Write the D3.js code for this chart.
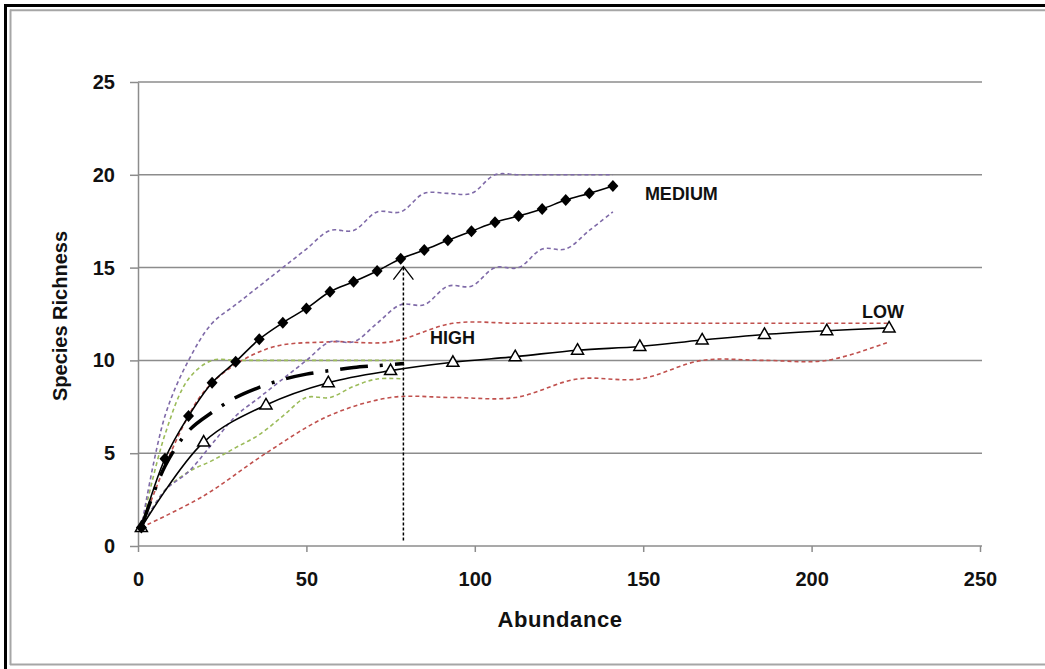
<!DOCTYPE html>
<html>
<head>
<meta charset="utf-8">
<script src="https://cdn.jsdelivr.net/npm/d3@7"></script>
<style>
  html, body { margin: 0; padding: 0; background: #fff; }
  svg { display: block; font-family: "Liberation Sans", Arial, sans-serif; }
</style>
</head>
<body>
<svg id="chart" width="1045" height="669"></svg>
<script>
// Rarefaction curves: species richness against abundance, with confidence bounds
const mediumX = [1, 8, 15, 22, 29, 36, 43, 50, 57, 64, 71, 78, 85, 92, 99, 106, 113, 120, 127, 134, 141];
const mediumY = [1, 4.7, 7.0, 8.8, 9.93, 11.14, 12.03, 12.8, 13.7, 14.24, 14.82, 15.48, 15.95, 16.47, 16.96, 17.44, 17.78, 18.16, 18.64, 19.0, 19.4];
const mediumUpper = [1, 7, 10, 12, 13, 14, 15, 16, 17, 17, 18, 18, 19, 19, 19, 20, 20, 20, 20, 20, 20];
const mediumLower = [1, 3, 4, 5.5, 7, 8, 9, 10, 11, 11, 12, 13, 13, 14, 14, 15, 15, 16, 16, 17, 18];

const highX = [1, 8, 15, 22, 29, 36, 43, 50, 57, 64, 71, 79];
const highY = [1, 4.3, 6.2, 7.2, 8.0, 8.55, 8.97, 9.26, 9.45, 9.62, 9.72, 9.83];
const highUpper = [1, 6, 9, 10, 10, 10, 10, 10, 10, 10, 10, 10];
const highLower = [1, 3, 4, 4.6, 5.3, 6, 7, 8, 8, 8.6, 9, 9];

const lowX = [1, 19.5, 38, 56.5, 75, 93.5, 112, 130.5, 149, 167.5, 186, 204.5, 223];
const lowY = [1, 5.6, 7.6, 8.8, 9.45, 9.9, 10.2, 10.55, 10.75, 11.1, 11.4, 11.6, 11.75];
const lowUpper = [1, 8.3, 10.6, 11, 11, 12, 12, 12, 12, 12, 12, 12, 12];
const lowLower = [1, 2.7, 5, 7, 8, 8, 8, 9, 9, 10, 10, 10, 11];

const xTicks = [0, 50, 100, 150, 200, 250];
const yTicks = [0, 5, 10, 15, 20, 25];

// Reference marker: abundance where the HIGH curve ends, up to the MEDIUM curve
const markerX = 78.8;
const markerY = [0.3, 15.05];

const seriesLabels = [
  { text: "MEDIUM", x: 141, y: 19.4 },
  { text: "HIGH", x: 79, y: 9.83 },
  { text: "LOW", x: 223, y: 11.75 }
];

const svg = d3.select("#chart");
const W = 1045, H = 669;

// Outer frame
svg.append("line").attr("x1", 5.5).attr("x2", 5.5).attr("y1", 4).attr("y2", H)
  .attr("stroke", "#000").attr("stroke-width", 3);
svg.append("line").attr("x1", 4).attr("x2", W).attr("y1", 5.5).attr("y2", 5.5)
  .attr("stroke", "#000").attr("stroke-width", 3);
svg.append("line").attr("x1", 10.5).attr("x2", 10.5).attr("y1", 9.5).attr("y2", 665)
  .attr("stroke", "#a6a6a6").attr("stroke-width", 2);
svg.append("line").attr("x1", 10).attr("x2", W).attr("y1", 10.2).attr("y2", 10.2)
  .attr("stroke", "#a6a6a6").attr("stroke-width", 2);
svg.append("line").attr("x1", 10).attr("x2", W).attr("y1", 664.5).attr("y2", 664.5)
  .attr("stroke", "#a6a6a6").attr("stroke-width", 2);

const x = d3.scaleLinear().domain([0, 250]).range([138, 980]);
const y = d3.scaleLinear().domain([0, 25]).range([546, 82]);
const gridRight = 982;
const gray = "#8c8c8c";

// Horizontal gridlines
svg.append("g").selectAll("line").data(yTicks.filter(d => d > 0)).join("line")
  .attr("x1", x(0)).attr("x2", gridRight)
  .attr("y1", d => y(d)).attr("y2", d => y(d))
  .attr("stroke", gray).attr("stroke-width", 1.5);

// Axes
const yAxis = svg.append("g").attr("transform", `translate(${x(0)},0)`)
  .call(d3.axisLeft(y).tickValues(yTicks).tickSize(8).tickSizeOuter(0).tickPadding(15));
const xAxis = svg.append("g").attr("transform", `translate(0,${y(0)})`)
  .call(d3.axisBottom(x).tickValues(xTicks).tickSize(6).tickSizeOuter(0).tickPadding(20));
xAxis.select(".domain").attr("d", `M${x(0)},0H${gridRight}`);
[yAxis, xAxis].forEach(g => {
  g.select(".domain").attr("stroke", gray).attr("stroke-width", 1.5);
  g.selectAll(".tick line").attr("stroke", gray).attr("stroke-width", 1.5);
  g.selectAll(".tick text").attr("fill", "#111").attr("font-size", 20)
    .attr("font-weight", "bold").attr("font-family", "Liberation Sans, Arial, sans-serif");
});

// Axis titles
svg.append("text").attr("transform", "translate(67,316) rotate(-90)")
  .attr("text-anchor", "middle").attr("font-size", 20).attr("font-weight", "bold")
  .attr("fill", "#111").text("Species Richness");
svg.append("text").attr("x", 560).attr("y", 627)
  .attr("text-anchor", "middle").attr("font-size", 22).attr("font-weight", "bold")
  .attr("letter-spacing", 0.6).attr("fill", "#111").text("Abundance");

const curve = d3.curveCatmullRom.alpha(0.5);
function drawLine(xs, ys, stroke, width, dash) {
  const pts = xs.map((v, i) => [v, ys[i]]);
  const gen = d3.line().x(d => x(d[0])).y(d => y(d[1])).curve(curve);
  const p = svg.append("path").datum(pts).attr("d", gen)
    .attr("fill", "none").attr("stroke", stroke).attr("stroke-width", width)
    .attr("stroke-linejoin", "round");
  if (dash) p.attr("stroke-dasharray", dash);
  return p;
}

const purple = "#7f6aa8", red = "#c0504d", green = "#9bbb59";
const ciDash = "4,3";

// Confidence bounds
drawLine(lowX, lowUpper, red, 1.6, ciDash);
drawLine(lowX, lowLower, red, 1.6, ciDash);
drawLine(highX, highUpper, green, 1.6, ciDash);
drawLine(highX, highLower, green, 1.6, ciDash);
drawLine(mediumX, mediumUpper, purple, 1.6, ciDash);
drawLine(mediumX, mediumLower, purple, 1.6, ciDash);

// Mean curves
drawLine(lowX, lowY, "#000", 1.6);
drawLine(highX, highY, "#000", 3.5, "28,12,3,12");
drawLine(mediumX, mediumY, "#000", 1.6);

// LOW markers: open triangles
svg.append("g").selectAll("path").data(lowX.map((v, i) => [v, lowY[i]])).join("path")
  .attr("transform", d => `translate(${x(d[0])},${y(d[1])})`)
  .attr("d", "M0,-6.5L6,4L-6,4Z")
  .attr("fill", "#fff").attr("stroke", "#000").attr("stroke-width", 1.5);

// MEDIUM markers: filled diamonds
svg.append("g").selectAll("path").data(mediumX.map((v, i) => [v, mediumY[i]])).join("path")
  .attr("transform", d => `translate(${x(d[0])},${y(d[1])})`)
  .attr("d", "M0,-6L5.5,0L0,6L-5.5,0Z")
  .attr("fill", "#000");

// Vertical marker with open arrowhead
const mx = x(markerX), my0 = y(markerY[0]), my1 = y(markerY[1]);
svg.append("line").attr("x1", mx).attr("x2", mx).attr("y1", my0).attr("y2", my1)
  .attr("stroke", "#000").attr("stroke-width", 1.5).attr("stroke-dasharray", "3,2");
svg.append("path").attr("d", `M${mx - 10},${my1 + 13}L${mx},${my1}L${mx + 10},${my1 + 13}`)
  .attr("fill", "none").attr("stroke", "#000").attr("stroke-width", 1.3);

// Series labels
const labelOffsets = { MEDIUM: [32, 14], HIGH: [26, -20], LOW: [-27, -10] };
svg.append("g").selectAll("text").data(seriesLabels).join("text")
  .attr("x", d => x(d.x) + labelOffsets[d.text][0])
  .attr("y", d => y(d.y) + labelOffsets[d.text][1])
  .attr("font-size", 18).attr("font-weight", "bold").attr("fill", "#111")
  .text(d => d.text);
</script>
</body>
</html>
